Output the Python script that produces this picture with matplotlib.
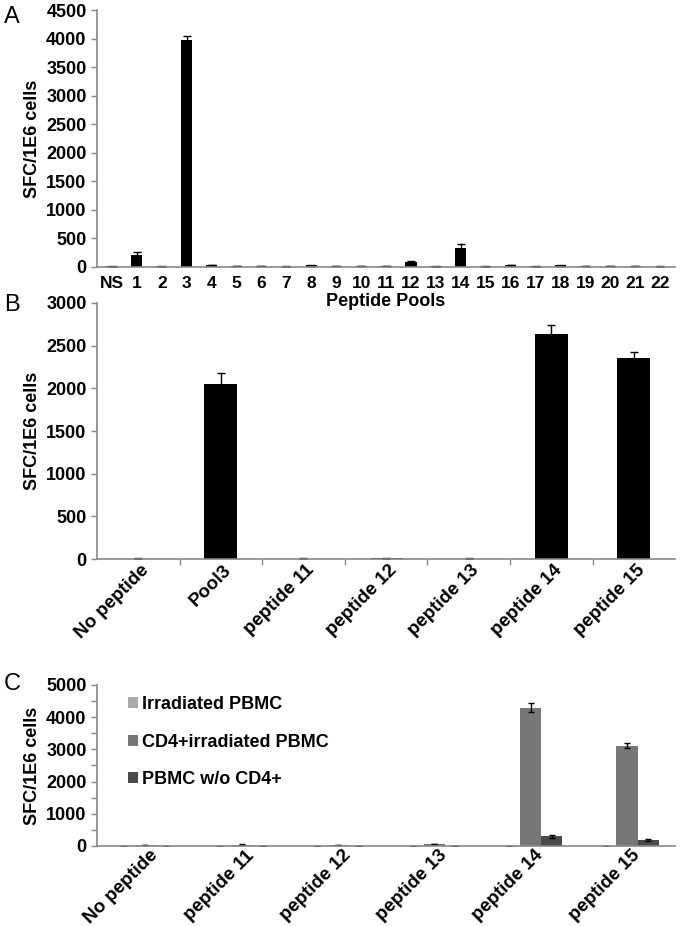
import matplotlib
matplotlib.use("Agg")
import matplotlib.pyplot as plt
import matplotlib.transforms as mtransforms
import numpy as np

plt.rcParams['font.family'] = ['Liberation Sans', 'DejaVu Sans']
plt.rcParams['font.weight'] = 'bold'

# Panel A
pools = ["NS"] + [str(i) for i in range(1, 23)]
pool_vals = [5, 200, 5, 3980, 30, 8, 8, 3, 25, 8, 10, 15, 80, 5, 330, 5, 30, 5, 25, 12, 8, 10, 3]
pool_err = [3, 60, 3, 60, 8, 3, 3, 2, 8, 3, 3, 5, 20, 2, 70, 3, 8, 2, 8, 4, 3, 4, 2]

# Panel B
b_cats = ["No peptide", "Pool3", "peptide 11", "peptide 12", "peptide 13", "peptide 14", "peptide 15"]
b_vals = [5, 2050, 5, 10, 5, 2640, 2360]
b_err = [3, 130, 3, 4, 3, 100, 70]

# Panel C
c_cats = ["No peptide", "peptide 11", "peptide 12", "peptide 13", "peptide 14", "peptide 15"]
c_series = ["Irradiated PBMC", "CD4+irradiated PBMC", "PBMC w/o CD4+"]
c_irr = [5, 3, 3, 3, 3, 3]
c_irr_err = [2, 2, 2, 2, 2, 2]
c_cd4 = [30, 40, 30, 60, 4300, 3120]
c_cd4_err = [8, 10, 8, 12, 130, 70]
c_wo = [5, 5, 5, 5, 300, 190]
c_wo_err = [2, 2, 2, 2, 40, 20]
c_colors = ["#aaaaaa", "#777777", "#4a4a4a"]

fig = plt.figure(figsize=(6.8, 9.26), dpi=100)
spine_col = "#888888"
fs = 13
fs_rot = 13.5

def style(ax, ymax, step):
    ax.patch.set_visible(False)
    for s in ["top", "right"]:
        ax.spines[s].set_visible(False)
    for s in ["left", "bottom"]:
        ax.spines[s].set_color(spine_col)
        ax.spines[s].set_linewidth(1.2)
    ax.set_ylim(0, ymax)
    ax.set_yticks(np.arange(0, ymax + 1, step))
    ax.tick_params(axis='y', colors=spine_col, labelcolor='black', labelsize=fs, length=4, width=1)
    ax.tick_params(axis='x', which='major', length=0, labelsize=fs, pad=6)
    for lab in ax.get_yticklabels():
        lab.set_fontweight('bold')
    ax.set_ylabel("SFC/1E6 cells", fontsize=fs, fontweight='bold')

def shift_labels(ax, dx_px, dy_px):
    off = mtransforms.ScaledTranslation(dx_px / 100.0, dy_px / 100.0, fig.dpi_scale_trans)
    for lab in ax.get_xticklabels():
        lab.set_transform(lab.get_transform() + off)

# A
axA = fig.add_axes([0.1426, 0.712, 0.8504, 0.277])
xA = np.arange(len(pools))
axA.bar(xA, pool_vals, width=0.45, color='black', yerr=pool_err,
        error_kw=dict(ecolor='black', capsize=3, elinewidth=1, capthick=1))
axA.set_xlim(-0.6, len(pools) - 0.4)
axA.set_xticks(xA)
axA.set_xticklabels(pools, fontweight='bold')
style(axA, 4500, 500)
axA.tick_params(axis='x', pad=7, labelsize=12.5)
axA.set_xlabel("Peptide Pools", fontsize=fs, fontweight='bold', labelpad=1.5)
fig.text(0.006, 0.982, "A", fontsize=17, fontweight='normal', va='center')

# B
axB = fig.add_axes([0.1426, 0.3963, 0.8504, 0.2765])
xB = np.arange(len(b_cats))
axB.bar(xB, b_vals, width=0.40, color='black', yerr=b_err,
        error_kw=dict(ecolor='black', capsize=3, elinewidth=1, capthick=1))
axB.set_xlim(-0.5, len(b_cats) - 0.5)
axB.set_xticks(xB)
axB.set_xticklabels(b_cats, rotation=45, ha='right', va='center', rotation_mode='anchor',
                    fontweight='bold', fontsize=fs_rot)
style(axB, 3000, 500)
axB.tick_params(axis='x', which='major', labelsize=fs_rot, pad=3)
axB.set_xticks(xB[:-1] + 0.5, minor=True)
axB.tick_params(axis='x', which='minor', colors=spine_col, length=4, width=1, direction='out')
shift_labels(axB, 8, -4)
fig.text(0.006, 0.671, "B", fontsize=17, fontweight='normal', va='center')

# C
axC = fig.add_axes([0.1426, 0.0864, 0.8504, 0.1739])
xC = np.arange(len(c_cats))
w = 0.22
ekw = dict(ecolor='black', capsize=2.5, elinewidth=1, capthick=1)
for i, (vals, errs) in enumerate([(c_irr, c_irr_err), (c_cd4, c_cd4_err), (c_wo, c_wo_err)]):
    axC.bar(xC + (i - 1) * w, vals, width=w, color=c_colors[i], yerr=errs,
            error_kw=ekw, label=c_series[i])
axC.set_xlim(-0.5, len(c_cats) - 0.5)
axC.set_xticks(xC)
axC.set_xticklabels(c_cats, rotation=45, ha='right', va='center', rotation_mode='anchor',
                    fontweight='bold', fontsize=fs_rot)
style(axC, 5000, 1000)
axC.tick_params(axis='x', which='major', labelsize=fs_rot, pad=3)
axC.set_yticks(np.arange(0, 5001, 500), minor=True)
axC.tick_params(axis='y', which='minor', colors=spine_col, length=4, width=1)
shift_labels(axC, 10, -3)
leg = axC.legend(loc='upper left', bbox_to_anchor=(0.035, 1.0), frameon=False,
                 fontsize=fs, handlelength=0.55, handleheight=0.55, handletextpad=0.25,
                 labelspacing=1.15, borderaxespad=0.2)
for t in leg.get_texts():
    t.set_fontweight('bold')
fig.text(0.006, 0.261, "C", fontsize=17, fontweight='normal', va='center')

fig.savefig("out.png", dpi=100)
